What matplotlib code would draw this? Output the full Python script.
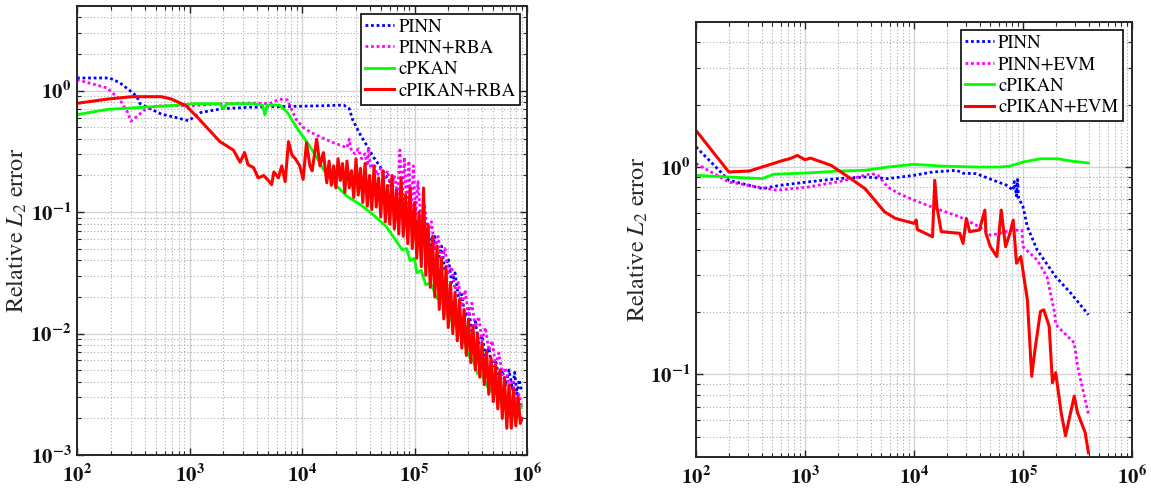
import numpy as np
import matplotlib
matplotlib.use("Agg")
import matplotlib.pyplot as plt
from matplotlib.ticker import FixedLocator, FixedFormatter, LogLocator, NullFormatter

plt.rcParams['font.family'] = ['STIXGeneral', 'DejaVu Serif']
plt.rcParams['mathtext.fontset'] = 'stix'

# ---------------- Left panel data (RBA) ----------------
left_labels = ['PINN', 'PINN+RBA', 'cPKAN', 'cPIKAN+RBA']

l_pinn_x = [100, 195, 240, 295, 339, 363, 562, 759, 977, 1259, 1950, 3548, 7244, 15140, 23440, 26300,
            28180, 32360, 38020, 42660, 48980, 56230, 64570, 74130, 79430, 85110,
            100000, 107200, 114800, 123000, 131800, 141300, 151400, 162200, 173800, 186200,
            199500, 213800, 229100, 245500, 263000, 281800, 302000, 323600, 346700, 371500,
            398100, 426600, 457100, 489800, 524800, 562300, 602600, 645700, 691800, 741300,
            776200, 812800, 851100, 891300]
l_pinn_y = [1.27, 1.27, 1.16, 1.00, 0.90, 0.78, 0.64, 0.60, 0.565, 0.66, 0.71, 0.73, 0.74, 0.75, 0.76, 0.71,
            0.575, 0.447, 0.347, 0.288, 0.24, 0.195, 0.162, 0.141, 0.126, 0.105,
            0.0955, 0.0661, 0.0832, 0.0550, 0.0724, 0.0479, 0.0631, 0.0398, 0.0525, 0.0331,
            0.0417, 0.0263, 0.0316, 0.0200, 0.0210, 0.0135, 0.0160, 0.0105, 0.0126, 0.00830,
            0.0096, 0.00660, 0.00760, 0.00530, 0.00610, 0.00430, 0.00500, 0.00370, 0.00501, 0.00347,
            0.00479, 0.00316, 0.00417, 0.00340]

l_rba_x = [100, 186, 240, 282, 302, 347, 417, 562, 1000, 1950, 3548, 5129, 6310, 7413, 8128, 8913,
           10230, 11750, 14450, 19050, 25120,
           26300, 27540, 29510, 31620, 33880, 36310, 38020, 38900, 40740, 43650,
           46770, 50120, 53700, 57540, 61660, 66070, 70790, 74130, 77620, 81280,
           85110, 89130, 93330, 97720, 102300, 107200, 114800, 123000, 131800, 141300,
           151400, 162200, 173800, 186200, 199500, 213800, 229100, 245500, 263000, 281800,
           302000, 323600, 346700, 371500, 398100, 426600, 457100, 489800, 524800, 562300,
           602600, 645700, 691800, 741300, 794300, 851100, 891300]
l_rba_y = [1.23, 1.05, 0.843, 0.66, 0.56, 0.62, 0.72, 0.75, 0.75, 0.78, 0.79, 0.78, 0.85, 0.84, 0.69, 0.575,
           0.50, 0.457, 0.417, 0.372, 0.339,
           0.398, 0.316, 0.302, 0.331, 0.275, 0.302, 0.240, 0.339, 0.229, 0.251,
           0.200, 0.229, 0.182, 0.219, 0.158, 0.200, 0.141, 0.324, 0.126, 0.282,
           0.112, 0.263, 0.100, 0.240, 0.0955, 0.178, 0.0794, 0.112, 0.0631, 0.0832,
           0.0501, 0.0631, 0.0398, 0.0501, 0.0316, 0.0355, 0.0229, 0.0263, 0.0166, 0.0229,
           0.0138, 0.0178, 0.0112, 0.0138, 0.00871, 0.0112, 0.00724, 0.00871, 0.00550, 0.00692,
           0.00457, 0.00525, 0.00363, 0.00417, 0.00288, 0.00316, 0.00251]

l_kan_x = [100, 186, 389, 813, 1096, 1862, 1995, 2138, 3548, 4467,
           4677, 4898, 6310, 7413, 8913, 10230, 11750, 13490, 15490, 19050,
           25120, 33110, 42660, 56230, 77620, 85110, 91200, 100000, 104700, 114800,
           125900, 138000, 158500, 173800, 190500, 208900, 229100, 251200, 275400, 302000,
           331100, 363100, 398100, 446700, 501200, 562300, 616600, 676100, 724400, 776200,
           831800, 891300]
l_kan_y = [0.634, 0.70, 0.73, 0.76, 0.78, 0.78, 0.71, 0.78, 0.78, 0.76,
           0.63, 0.76, 0.76, 0.66, 0.50, 0.417, 0.347, 0.282, 0.224, 0.174,
           0.135, 0.115, 0.0955, 0.0759, 0.049, 0.0501, 0.0398, 0.0417, 0.0316, 0.0331,
           0.0251, 0.0263, 0.0195, 0.0191, 0.0145, 0.0129, 0.0120, 0.0100, 0.00871, 0.00661,
           0.00603, 0.00468, 0.00457, 0.00363, 0.00324, 0.00316, 0.00263, 0.00302, 0.00240, 0.00282,
           0.00224, 0.00251]

l_kanrba_x = [100, 186, 309, 562, 692, 933, 1175, 1585, 1862, 2455,
              2818, 3090, 3311, 3715, 4074, 4571, 5012, 5370, 5623, 6166,
              6607, 7079, 7586, 8128, 8710, 9550, 10230, 10960, 11750, 12300,
              13490, 14450, 15490,
              16600, 17400, 18200, 19100, 20000, 20900, 21900, 22900, 24000, 25100,
              26300, 27500, 28800, 30200, 31600, 33100, 34700, 36300, 38000, 39800,
              41700, 43700, 45700, 47900, 50100, 52500, 55000, 57500, 60300, 63100,
              66100, 69200, 72400, 75900, 79400, 83200, 87100, 91200, 95500, 100000,
              104700, 109600, 114800, 120200, 125900, 131800, 138000, 144500, 151400, 158500,
              166000, 173800, 182000, 190500, 199500, 208900, 218800, 229100, 239900, 251200,
              263000, 275400, 288400, 302000, 316200, 331100, 346700, 363100, 380200, 398100,
              416900, 436500, 457100, 478600, 501200, 524800, 549500, 575400, 602600, 631000,
              660700, 691800, 724400, 758600, 794300, 831800, 871000, 900000]
l_kanrba_y = [0.785, 0.851, 0.891, 0.891, 0.851, 0.75, 0.603, 0.447, 0.380, 0.324,
              0.257, 0.309, 0.245, 0.232, 0.191, 0.200, 0.182, 0.168, 0.214, 0.191,
              0.240, 0.178, 0.380, 0.295, 0.275, 0.240, 0.186, 0.372, 0.240, 0.219,
              0.398, 0.240, 0.309,
              0.174, 0.263, 0.166, 0.240, 0.158, 0.275, 0.182, 0.251, 0.145, 0.263,
              0.158, 0.219, 0.132, 0.275, 0.138, 0.229, 0.120, 0.251, 0.112, 0.200,
              0.105, 0.240, 0.110, 0.191, 0.0912, 0.219, 0.0832, 0.166, 0.0794, 0.200,
              0.0724, 0.151, 0.0661, 0.191, 0.0631, 0.138, 0.0550, 0.158, 0.0501, 0.120,
              0.0417, 0.100, 0.0355, 0.158, 0.0302, 0.0794, 0.0240, 0.0631, 0.0200, 0.0525,
              0.0158, 0.0417, 0.0132, 0.0347, 0.0112, 0.0263, 0.0100, 0.0219, 0.00871, 0.0191,
              0.00759, 0.0158, 0.00661, 0.0132, 0.00575, 0.0115, 0.00501, 0.0100, 0.00437, 0.00832,
              0.00380, 0.00724, 0.00316, 0.00631, 0.00275, 0.00550, 0.00240, 0.00501, 0.00200, 0.00437,
              0.00166, 0.00380, 0.00166, 0.00347, 0.00174, 0.00302, 0.00182, 0.00200]

# ---------------- Right panel data (EVM) ----------------
right_labels = ['PINN', 'PINN+EVM', 'cPIKAN', 'cPIKAN+EVM']

r_pinn_x = [100, 200, 407, 589, 1047, 1995, 3548, 5754, 10000, 14790, 24550, 28180, 37150, 53700,
            70790, 81280, 83180, 87100, 89130, 91200, 100000, 109600, 134900, 199500, 275400, 398100]
r_pinn_y = [1.25, 0.863, 0.787, 0.816, 0.847, 0.879, 0.895, 0.879, 0.912, 0.946, 0.964, 0.933, 0.929, 0.863,
            0.816, 0.773, 0.851, 0.724, 0.871, 0.708, 0.643, 0.515, 0.398, 0.296, 0.246, 0.194]

r_evm_x = [100, 200, 550, 1047, 1995, 4074, 4677, 5754, 7244, 10000, 15850, 26300, 39810, 50120,
           61660, 75860, 97720, 100000, 134900, 166000, 195000, 199500, 295100, 316200, 398100]
r_evm_y = [1.04, 0.847, 0.773, 0.80, 0.847, 0.929, 0.912, 0.80, 0.745, 0.692, 0.631, 0.575, 0.515, 0.47,
           0.479, 0.496, 0.496, 0.413, 0.356, 0.296, 0.198, 0.174, 0.142, 0.11, 0.0643]

r_kan_x = [100, 200, 407, 513, 1047, 1995, 3548, 5754, 10000, 18200, 37150, 61660, 75860, 100000,
           144500, 208900, 275400, 398100]
r_kan_y = [0.912, 0.895, 0.879, 0.923, 0.936, 0.956, 0.964, 1.0, 1.03, 1.01, 1.0, 1.0, 1.01, 1.057,
           1.096, 1.096, 1.069, 1.045]

r_kanevm_x = [100, 200, 309, 513, 631, 724, 851, 1000, 1122, 1738,
              2630, 3548, 4365, 5370, 6761, 10000, 10470, 10720, 14790, 15490,
              16220, 17780, 26300, 28180, 30200, 32360, 39810, 44670, 45710, 50120,
              57540, 63100, 69180, 75860, 81280, 87100, 95500, 109600, 120200, 128800,
              144500, 154900, 173800, 186200, 199500, 223900, 245500, 295100, 316200, 371500,
              398100]
r_kanevm_y = [1.5, 0.946, 0.957, 1.04, 1.077, 1.096, 1.137, 1.084, 1.104, 1.018,
              0.879, 0.787, 0.692, 0.608, 0.565, 0.535, 0.555, 0.50, 0.461, 0.863,
              0.643, 0.488, 0.479, 0.428, 0.565, 0.488, 0.497, 0.62, 0.479, 0.413,
              0.37, 0.62, 0.413, 0.479, 0.555, 0.344, 0.37, 0.229, 0.098, 0.132,
              0.201, 0.205, 0.171, 0.0912, 0.102, 0.0655, 0.0506, 0.0787, 0.0655, 0.0525,
              0.042]

x_ticks = [1e2, 1e3, 1e4, 1e5, 1e6]
x_tick_labels = [r'$\mathbf{10^{2}}$', r'$\mathbf{10^{3}}$', r'$\mathbf{10^{4}}$',
                 r'$\mathbf{10^{5}}$', r'$\mathbf{10^{6}}$']
left_y_ticks = [1e-3, 1e-2, 1e-1, 1e0]
left_y_tick_labels = [r'$\mathbf{10^{-3}}$', r'$\mathbf{10^{-2}}$', r'$\mathbf{10^{-1}}$', r'$\mathbf{10^{0}}$']
right_y_ticks = [1e-1, 1e0]
right_y_tick_labels = [r'$\mathbf{10^{-1}}$', r'$\mathbf{10^{0}}$']

colors = ['#0000ff', '#ff00ff', '#00ff00', '#ff0000']
styles = [(0, (1, 1)), (0, (1, 1)), '-', '-']
widths = [2.0, 2.0, 2.0, 2.2]

AX_COL = '#262626'

fig = plt.figure(figsize=(11.51, 4.98), dpi=100)
axL = fig.add_axes([0.0669, 0.0863, 0.3910, 0.9023])
axR = fig.add_axes([0.6047, 0.0823, 0.3788, 0.8735])


def style(ax, ylim, yt, ytl, legend_labels, anchor, label_x):
    ax.set_xscale('log')
    ax.set_yscale('log')
    ax.set_xlim(1e2, 1e6)
    ax.set_ylim(*ylim)
    ax.xaxis.set_major_locator(FixedLocator(x_ticks))
    ax.xaxis.set_major_formatter(FixedFormatter(x_tick_labels))
    ax.xaxis.set_minor_locator(LogLocator(base=10, subs=np.arange(2, 10), numticks=30))
    ax.xaxis.set_minor_formatter(NullFormatter())
    ax.yaxis.set_major_locator(FixedLocator(yt))
    ax.yaxis.set_major_formatter(FixedFormatter(ytl))
    ax.yaxis.set_minor_locator(LogLocator(base=10, subs=np.arange(2, 10), numticks=30))
    ax.yaxis.set_minor_formatter(NullFormatter())
    ax.grid(True, which='major', color='#d4d4d4', linestyle='-', linewidth=1.0)
    ax.grid(True, which='minor', color='#aaaaaa', linestyle=(0, (1, 2)), linewidth=0.8)
    ax.set_axisbelow(True)
    ax.tick_params(which='both', direction='in', top=True, right=True, colors=AX_COL,
                   labelcolor='#111111', labelsize=15)
    ax.tick_params(which='major', length=5, width=1.0)
    ax.tick_params(which='minor', length=3, width=0.8)
    ax.tick_params(axis='x', pad=7)
    ax.tick_params(axis='y', pad=4)
    for s in ax.spines.values():
        s.set_color(AX_COL)
        s.set_linewidth(1.4)
    ax.set_ylabel(r'Relative $L_2$ error', fontsize=17.5, color='#262626')
    ax.yaxis.set_label_coords(label_x, 0.5)
    leg = ax.legend(legend_labels, loc='upper right', bbox_to_anchor=anchor, fontsize=13.5,
                    frameon=True, fancybox=False, edgecolor='#1a1a1a', framealpha=1,
                    borderaxespad=0, handlelength=1.55, handletextpad=0.2,
                    labelspacing=0.23, borderpad=0.25)
    leg.get_frame().set_linewidth(1.3)


for x, y, c, ls, lw in zip([l_pinn_x, l_rba_x, l_kan_x, l_kanrba_x],
                           [l_pinn_y, l_rba_y, l_kan_y, l_kanrba_y], colors, styles, widths):
    axL.plot(x, y, color=c, linestyle=ls, linewidth=lw)
style(axL, (1e-3, 5), left_y_ticks, left_y_tick_labels, left_labels,
      (1 - 7 / 450, 1 - 8 / 449), -0.107)

for x, y, c, ls, lw in zip([r_pinn_x, r_evm_x, r_kan_x, r_kanevm_x],
                           [r_pinn_y, r_evm_y, r_kan_y, r_kanevm_y], colors, styles, widths):
    axR.plot(x, y, color=c, linestyle=ls, linewidth=lw)
style(axR, (0.04, 5), right_y_ticks, right_y_tick_labels, right_labels,
      (1 - 9 / 436, 1 - 8 / 435), -0.106)

fig.savefig('out.png', dpi=100)
